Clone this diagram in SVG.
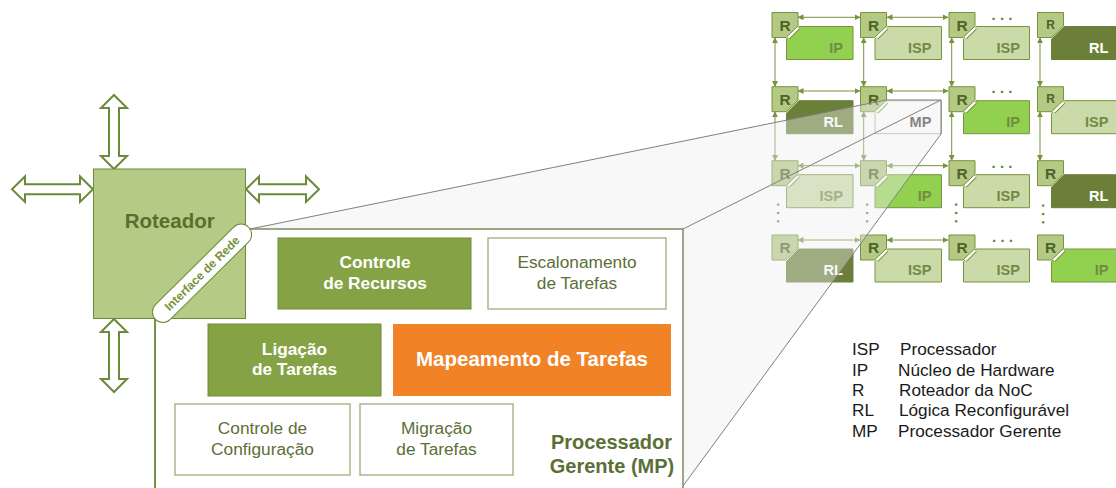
<svg xmlns="http://www.w3.org/2000/svg" width="1116" height="488" viewBox="0 0 1116 488">
<style>
text{font-family:"Liberation Sans",Arial,sans-serif}
.r{fill:#b3c984;stroke:#77933c;stroke-width:1}
.isp{fill:#cbdaa9;stroke:#77933c;stroke-width:1}
.ip{fill:#92d050;stroke:#77933c;stroke-width:1}
.rl{fill:#6b7f38;stroke:#6b7f38;stroke-width:1}
.rt{font-size:15.500px;font-weight:bold;fill:#4f6228;text-anchor:middle}
.lb{font-size:14.600px;font-weight:bold;fill:#718c42;text-anchor:end}
.lw{font-size:14.600px;font-weight:bold;fill:#fff;text-anchor:end}
.slo{stroke:#77933c;stroke-width:5;fill:none}
.sli{stroke:#fff;stroke-width:3;fill:none}
.con{stroke:#77933c;stroke-width:1;fill:none;marker-start:url(#a);marker-end:url(#a)}
.dot{font-size:15px;font-weight:bold;fill:#6b7f38;text-anchor:middle}
.big{fill:none;stroke:#6b8a3a;stroke-width:2}
.bd{fill:#85a345;stroke:#71893a;stroke-width:1}
.bw{fill:#fff;stroke:#a6b98a;stroke-width:1.5}
.tw{font-size:17.300px;font-weight:bold;fill:#fff;text-anchor:middle}
.tg{font-size:17.300px;fill:#5b7036;text-anchor:middle}
.leg{font-size:17.200px;fill:#1a1a1a}
</style>
<defs>
<marker id="a" viewBox="0 0 6 6" refX="5.5" refY="3" markerWidth="6" markerHeight="6" markerUnits="userSpaceOnUse" orient="auto-start-reverse"><path d="M0 0L6 3L0 6Z" fill="#77933c"/></marker>
<g id="rr"><path class="r" d="M0 0H26V13.500L14 25H0Z"/></g>
</defs>

<g id="grid-connectors">
<path class="con" d="M798 17.300H860"/><path class="con" d="M887 17.300H948"/>
<path class="con" d="M798 91H860"/><path class="con" d="M887 91H948"/>
<path class="con" d="M798 165.700H860"/><path class="con" d="M887 165.700H948"/>
<path class="con" d="M798 240H860"/><path class="con" d="M887 240H948"/>
<path class="con" d="M775 37.700V86.500"/><path class="con" d="M863.700 37.700V86.500"/><path class="con" d="M951.700 37.700V86.500"/><path class="con" d="M1040 37.700V86.500"/>
<path class="con" d="M775 111.700V160.500"/><path class="con" d="M863.700 111.700V160.500"/><path class="con" d="M951.700 111.700V160.500"/><path class="con" d="M1040 111.700V160.500"/>
</g>
<g id="grid-dots">
<text class="dot" x="1002" y="19.500">. . .</text><text class="dot" x="1002" y="93">. . .</text><text class="dot" x="1002" y="168">. . .</text><text class="dot" x="1002.500" y="242">. . .</text>
<text class="dot" transform="translate(777,213) rotate(90)">. . .</text>
<text class="dot" transform="translate(866,213) rotate(90)">. . .</text>
<text class="dot" transform="translate(955,213) rotate(90)">. . .</text>
<text class="dot" transform="translate(1042,214) rotate(90)">. . .</text>
</g>

<g id="n00" transform="translate(772,12.500)"><path class="ip" d="M27 14H81V47H14.500V26.500Z"/><path class="slo" d="M16 25L26 15"/><path class="sli" d="M16 25L26 15"/><use href="#rr"/><text class="rt" x="13" y="18">R</text><text class="lb" x="71" y="40">IP</text></g>
<g id="n01" transform="translate(860.500,12.500)"><path class="isp" d="M27 14H81V47H14.500V26.500Z"/><path class="slo" d="M16 25L26 15"/><path class="sli" d="M16 25L26 15"/><use href="#rr"/><text class="rt" x="13" y="18">R</text><text class="lb" x="71" y="40">ISP</text></g>
<g id="n02" transform="translate(949,12.500)"><path class="isp" d="M27 14H80.500V47H14.500V26.500Z"/><path class="slo" d="M16 25L26 15"/><path class="sli" d="M16 25L26 15"/><use href="#rr"/><text class="rt" x="13" y="18">R</text><text class="lb" x="71" y="40">ISP</text></g>
<g id="n03" transform="translate(1037.500,12.500)"><path class="rl" d="M27 14H81V47H14V26.500Z"/><use href="#rr"/><text class="rt" style="font-size:12px" x="13" y="16">R</text><text class="lw" x="71" y="40">RL</text></g>

<g id="n10" transform="translate(772,86.700)"><path class="rl" d="M27 14H81V47H14.500V26.500Z"/><use href="#rr"/><text class="rt" x="13" y="18">R</text><text class="lw" x="71" y="40">RL</text></g>
<g id="n11" transform="translate(860.500,86.700)"><path d="M27 14H81V47H14.500V26.500Z" fill="#fff" stroke="#a6b98a"/><path class="slo" d="M16 25L26 15"/><path class="sli" d="M16 25L26 15"/><use href="#rr"/><text class="rt" x="13" y="18">R</text><text x="71" y="40" style="font-size:14.600px;font-weight:bold;fill:#3f3f3f;text-anchor:end">MP</text></g>
<g id="n12" transform="translate(949,86.700)"><path class="ip" d="M27 14H80.500V47H14.500V26.500Z"/><path class="slo" d="M16 25L26 15"/><path class="sli" d="M16 25L26 15"/><use href="#rr"/><text class="rt" x="13" y="18">R</text><text class="lb" x="71" y="40">IP</text></g>
<g id="n13" transform="translate(1037.500,86.700)"><path class="isp" d="M27 14H81V47H14V26.500Z"/><path class="slo" d="M16 25L26 15"/><path class="sli" d="M16 25L26 15"/><use href="#rr"/><text class="rt" style="font-size:12px" x="13" y="16">R</text><text class="lb" x="71" y="40">ISP</text></g>

<g id="n20" transform="translate(772,160.700)"><path class="isp" d="M27 14H81V47H14.500V26.500Z"/><path class="slo" d="M16 25L26 15"/><path class="sli" d="M16 25L26 15"/><use href="#rr"/><text class="rt" x="13" y="18">R</text><text class="lb" x="71" y="40">ISP</text></g>
<g id="n21" transform="translate(860.500,160.700)"><path class="ip" d="M27 14H81V47H14.500V26.500Z"/><path class="slo" d="M16 25L26 15"/><path class="sli" d="M16 25L26 15"/><use href="#rr"/><text class="rt" x="13" y="18">R</text><text class="lb" x="71" y="40">IP</text></g>
<g id="n22" transform="translate(949,160.700)"><path class="isp" d="M27 14H80.500V47H14.500V26.500Z"/><path class="slo" d="M16 25L26 15"/><path class="sli" d="M16 25L26 15"/><use href="#rr"/><text class="rt" x="13" y="18">R</text><text class="lb" x="71" y="40">ISP</text></g>
<g id="n23" transform="translate(1037.500,160.700)"><path class="rl" d="M27 14H81V47H14V26.500Z"/><use href="#rr"/><text class="rt" x="13" y="18">R</text><text class="lw" x="71" y="40">RL</text></g>

<g id="n30" transform="translate(772,235)"><path class="rl" d="M27 14H81V47H14.500V26.500Z"/><use href="#rr"/><text class="rt" x="13" y="18">R</text><text class="lw" x="71" y="40">RL</text></g>
<g id="n31" transform="translate(860.500,235)"><path class="isp" d="M27 14H81V47H14.500V26.500Z"/><path class="slo" d="M16 25L26 15"/><path class="sli" d="M16 25L26 15"/><use href="#rr"/><text class="rt" x="13" y="18">R</text><text class="lb" x="71" y="40">ISP</text></g>
<g id="n32" transform="translate(949,235)"><path class="isp" d="M27 14H80.500V47H14.500V26.500Z"/><path class="slo" d="M16 25L26 15"/><path class="sli" d="M16 25L26 15"/><use href="#rr"/><text class="rt" x="13" y="18">R</text><text class="lb" x="71" y="40">ISP</text></g>
<g id="n33" transform="translate(1037.500,235)"><path class="ip" d="M27 14H81V47H14V26.500Z"/><path class="slo" d="M16 25L26 15"/><path class="sli" d="M16 25L26 15"/><use href="#rr"/><text class="rt" x="13" y="18">R</text><text class="lb" x="71" y="40">IP</text></g>

<g id="zoom-projection">
<path d="M250 229L886 100H941V134L683 486V229Z" fill="#eeeeee" fill-opacity=".4"/>
<path d="M250 229L886 100H941V134L683 486M683 229L941 100" fill="none" stroke="#7f7f7f" stroke-width="1"/>
</g>

<g id="processador-gerente">
<rect x="155" y="229" width="528" height="270" fill="#fff" stroke="#7d8a62" stroke-width="1.500"/>
<path d="M155 318V488" stroke="#6b8a3a" stroke-width="1.500" fill="none"/>
<text x="611.500" y="449.300" style="font-size:20px;font-weight:bold;fill:#5b7036;text-anchor:middle">Processador</text>
<text x="612" y="473" style="font-size:20px;font-weight:bold;fill:#5b7036;text-anchor:middle">Gerente (MP)</text>
</g>
<g id="controle-recursos"><rect class="bd" x="278" y="238" width="193" height="71"/><text class="tw" x="375" y="267.700">Controle</text><text class="tw" x="375" y="289">de Recursos</text></g>
<g id="escalonamento"><rect class="bw" x="488" y="238" width="178" height="71"/><text class="tg" x="577" y="267.700">Escalonamento</text><text class="tg" x="577" y="289">de Tarefas</text></g>
<g id="ligacao"><rect class="bd" x="208" y="324" width="173" height="72"/><text class="tw" x="294.500" y="355">Ligação</text><text class="tw" x="294.500" y="375">de Tarefas</text></g>
<g id="mapeamento"><rect x="393" y="324" width="278" height="72" fill="#f28226"/><text x="532" y="366" style="font-size:20.500px;font-weight:bold;fill:#fff;text-anchor:middle">Mapeamento de Tarefas</text></g>
<g id="controle-configuracao"><rect class="bw" x="175" y="404" width="175" height="71"/><text class="tg" x="262.500" y="434">Controle de</text><text class="tg" x="262.500" y="455">Configuração</text></g>
<g id="migracao"><rect class="bw" x="360" y="404" width="153" height="71"/><text class="tg" x="436.500" y="434">Migração</text><text class="tg" x="436.500" y="455">de Tarefas</text></g>

<g id="setas">
<path class="big" d="M114 95L127 108H119V156H127L114 169L101 156H109V108H101Z"/>
<path class="big" d="M114 319L127 332H119V379H127L114 392L101 379H109V332H101Z"/>
<path class="big" d="M12 189.300L25 176.500V184.300H80V176.500L93 189.300L80 202V194.300H25V202Z"/>
<path class="big" d="M246 189.300L259 176.500V184.300H306V176.500L319 189.300L306 202V194.300H259V202Z"/>
</g>
<g id="roteador">
<rect x="93.500" y="169" width="152" height="149.500" fill="#b5ca85" stroke="#6b8a3a" stroke-width="1"/>
<text x="169.700" y="228" style="font-size:20.500px;font-weight:bold;fill:#586f2e;text-anchor:middle">Roteador</text>
</g>
<g id="interface-rede" transform="translate(202,273.300) rotate(-44.700)">
<rect x="-65.500" y="-10.500" width="131" height="21" rx="10.500" fill="#fff" stroke="#6b8a3a" stroke-width="1"/>
<text x="0" y="4.300" style="font-size:12px;font-weight:bold;fill:#77933c;text-anchor:middle">Interface de Rede</text>
</g>

<g id="legenda">
<text class="leg" x="852" y="355">ISP</text><text class="leg" x="900" y="355">Processador</text>
<text class="leg" x="852" y="375.700">IP</text><text class="leg" x="898" y="375.700">Núcleo de Hardware</text>
<text class="leg" x="852" y="395.700">R</text><text class="leg" x="899" y="395.700">Roteador da NoC</text>
<text class="leg" x="852" y="416">RL</text><text class="leg" x="899" y="416">Lógica Reconfigurável</text>
<text class="leg" x="852" y="436.700">MP</text><text class="leg" x="898" y="436.700">Processador Gerente</text>
</g>
</svg>
